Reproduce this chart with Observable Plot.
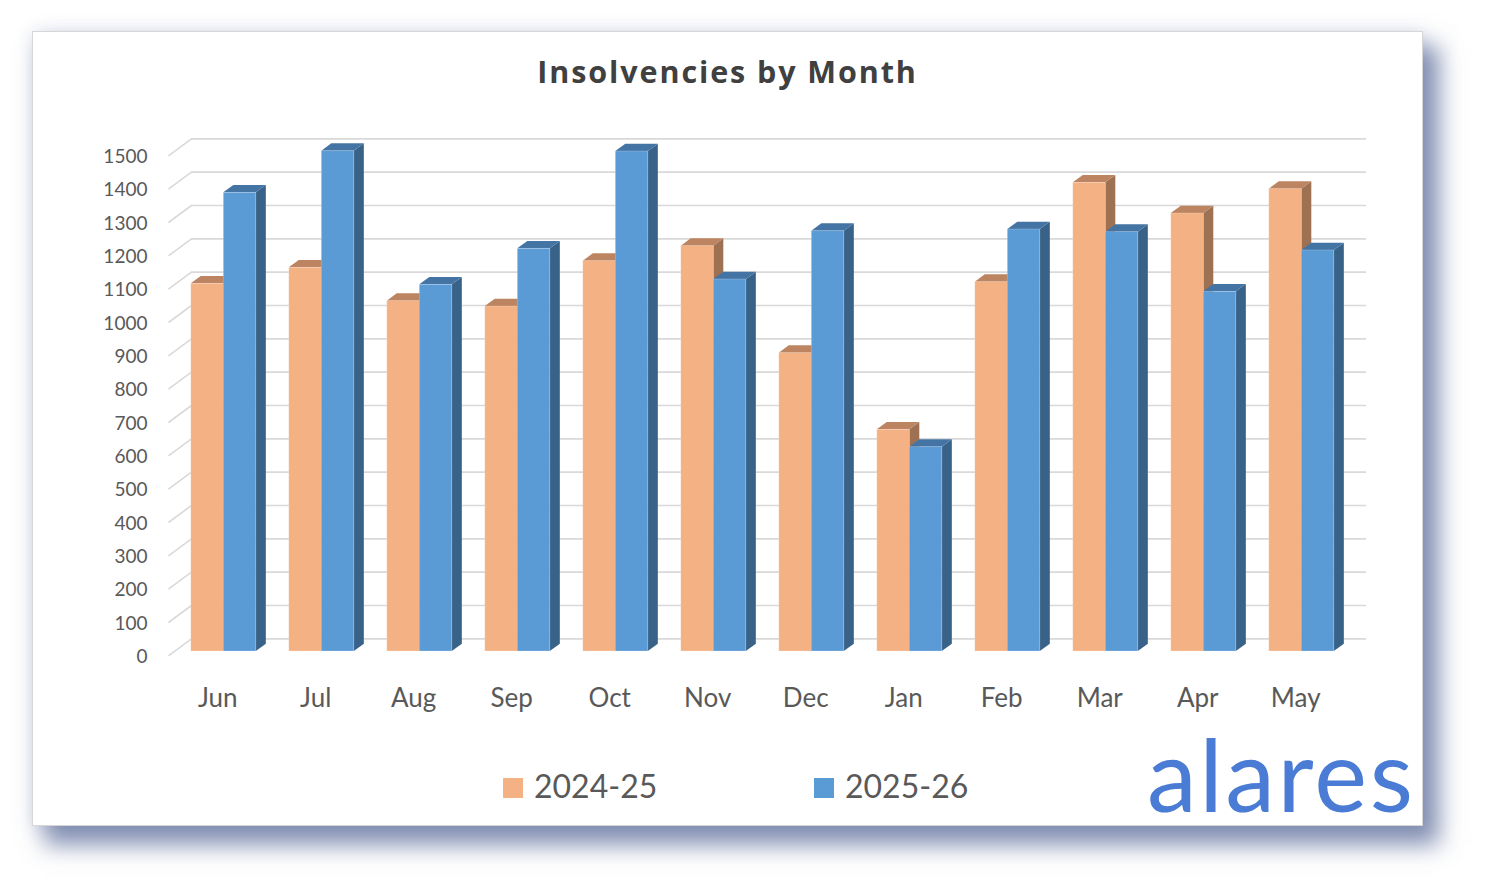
<!DOCTYPE html>
<html>
<head>
<meta charset="utf-8">
<script src="https://cdn.jsdelivr.net/npm/d3@7"></script>
<script src="https://cdn.jsdelivr.net/npm/@observablehq/plot@0.6"></script>
<style>
  html, body { margin: 0; padding: 0; background: #ffffff; }
  body { position: relative; width: 1488px; height: 891px; overflow: hidden; font-family: Lato, "Open Sans", sans-serif; }
  #card {
    position: absolute; left: 32px; top: 31px; width: 1391px; height: 795px;
    box-sizing: border-box; background: #fff; border: 1px solid #d6d6d6;
    box-shadow: 14px 17px 22px 2px rgba(85,102,150,0.72), 0 0 16px rgba(150,160,195,0.28);
  }
  #title {
    position: absolute; left: 32px; width: 1391px; top: 49px; text-align: center;
    font-family: "Open Sans", Lato, sans-serif; font-weight: 700; font-size: 30.5px; color: #404040;
    letter-spacing: 1.9px; line-height: 44px;
  }
  #chart { position: absolute; left: 32px; top: 100px; }
  .leg { position: absolute; top: 764px; font-size: 32px; color: #595959; line-height: 44px; }
  .leg i { display: inline-block; width: 20px; height: 20px; vertical-align: middle; margin-right: 11px; position: relative; top: -2px; }
  #logo { position: absolute; left: 1147px; top: 723px; font-size: 100px; color: #4a7cd6; line-height: 100px; letter-spacing: 2.5px; }
</style>
</head>
<body>
<div id="card"></div>
<div id="title">Insolvencies by Month</div>
<div id="chart"></div>
<div id="legend"></div>
<div id="logo">alares</div>
<script>
// ---- data ----
const months = ["Jun","Jul","Aug","Sep","Oct","Nov","Dec","Jan","Feb","Mar","Apr","May"];
const seriesNames = ["2024-25", "2025-26"];
const values2425 = [1103, 1151, 1051, 1035, 1171, 1216, 895, 665, 1108, 1406, 1314, 1387];
const values2526 = [1376, 1501, 1100, 1208, 1500, 1116, 1261, 613, 1266, 1258, 1079, 1203];
const yTicks = [0,100,200,300,400,500,600,700,800,900,1000,1100,1200,1300,1400,1500];

// ---- styles ----
const frontColors = ["#F4B183", "#5B9BD5"];
const topColors   = ["#BC8461", "#4474A4"];
const sideColors  = ["#9E7152", "#386288"];

// geometry constants (in scale units)
const W = 0.332;      // bar width (x units)
const DX = 0.102;     // depth offset in x
const DY = 22;        // depth offset in y
const BACK = 38;      // back wall offset (y units)
const FRONTLBL = -13; // front label plane offset
const WALL_X1 = -0.33, WALL_X2 = 11.66, SIDE_X = -0.565;

const rows = [];
months.forEach((m, i) => {
  rows.push({month: m, i, s: 0, series: seriesNames[0], value: values2425[i]});
  rows.push({month: m, i, s: 1, series: seriesNames[1], value: values2526[i]});
});
const bx1 = d => d.i - W + d.s * W;
const bx2 = d => d.i + d.s * W;

const sidePts = rows.flatMap(d => [0, 1].map(k => ({...d, k})));
const topPts = rows.flatMap(d => [0, 1, 2, 3].map(k => ({...d, k})));
const topX = d => [bx1(d), bx1(d) + DX, bx2(d), bx2(d) + DX][d.k];
const topY1 = d => d.value + [0, 0, 0, DY][d.k];
const topY2 = d => d.value + [0, DY, DY, DY][d.k];

const gridColor = "#d9d9d9";

const chart = Plot.plot({
  width: 1391, height: 620,
  marginLeft: 93.3, marginRight: 23.7, marginTop: 51, marginBottom: 69,
  x: {type: "linear", domain: [-1, 12], axis: null},
  y: {type: "linear", domain: [0, 1500], axis: null},
  style: {background: "transparent", overflow: "visible"},
  marks: [
    // back wall gridlines
    Plot.ruleY(yTicks, {y: d => d + BACK, x1: WALL_X1, x2: WALL_X2, stroke: gridColor, strokeWidth: 1.6}),
    // side wall diagonals
    Plot.link(yTicks, {x1: SIDE_X, y1: d => d + FRONTLBL, x2: WALL_X1, y2: d => d + BACK, stroke: gridColor, strokeWidth: 1.6}),
    // bar side faces
    Plot.area(sidePts, {
      x1: d => bx2(d) + d.k * DX, y1: d => d.k * DY, y2: d => d.value + d.k * DY,
      z: d => d.month + d.s, fill: d => sideColors[d.s], curve: "linear"
    }),
    // bar top faces
    Plot.area(topPts, {
      x1: topX, y1: topY1, y2: topY2,
      z: d => d.month + d.s, fill: d => topColors[d.s], curve: "linear"
    }),
    // bar front faces
    Plot.rect(rows, {
      x1: bx1, x2: bx2, y1: 0, y2: "value",
      fill: d => frontColors[d.s], stroke: "#ffffff", strokeOpacity: 0.25, strokeWidth: 0.8
    }),
    // y tick labels
    Plot.text(yTicks, {x: () => -0.779, y: d => d - 16, text: d => String(d), textAnchor: "end",
      fontSize: 19, fill: "#595959"}),
    // month labels
    Plot.text(months, {x: (d, i) => i - 0.062, y: () => -143, text: d => d,
      fontSize: 26, fill: "#595959"})
  ]
});
chart.style.fontFamily = "Lato, 'Open Sans', sans-serif";
document.getElementById("chart").appendChild(chart);

// legend
const legend = document.getElementById("legend");
const legX = [503, 814];
seriesNames.forEach((name, j) => {
  const el = document.createElement("div");
  el.className = "leg";
  el.style.left = legX[j] + "px";
  el.innerHTML = `<i style="background:${frontColors[j]}"></i>${name}`;
  legend.appendChild(el);
});
</script>
</body>
</html>
